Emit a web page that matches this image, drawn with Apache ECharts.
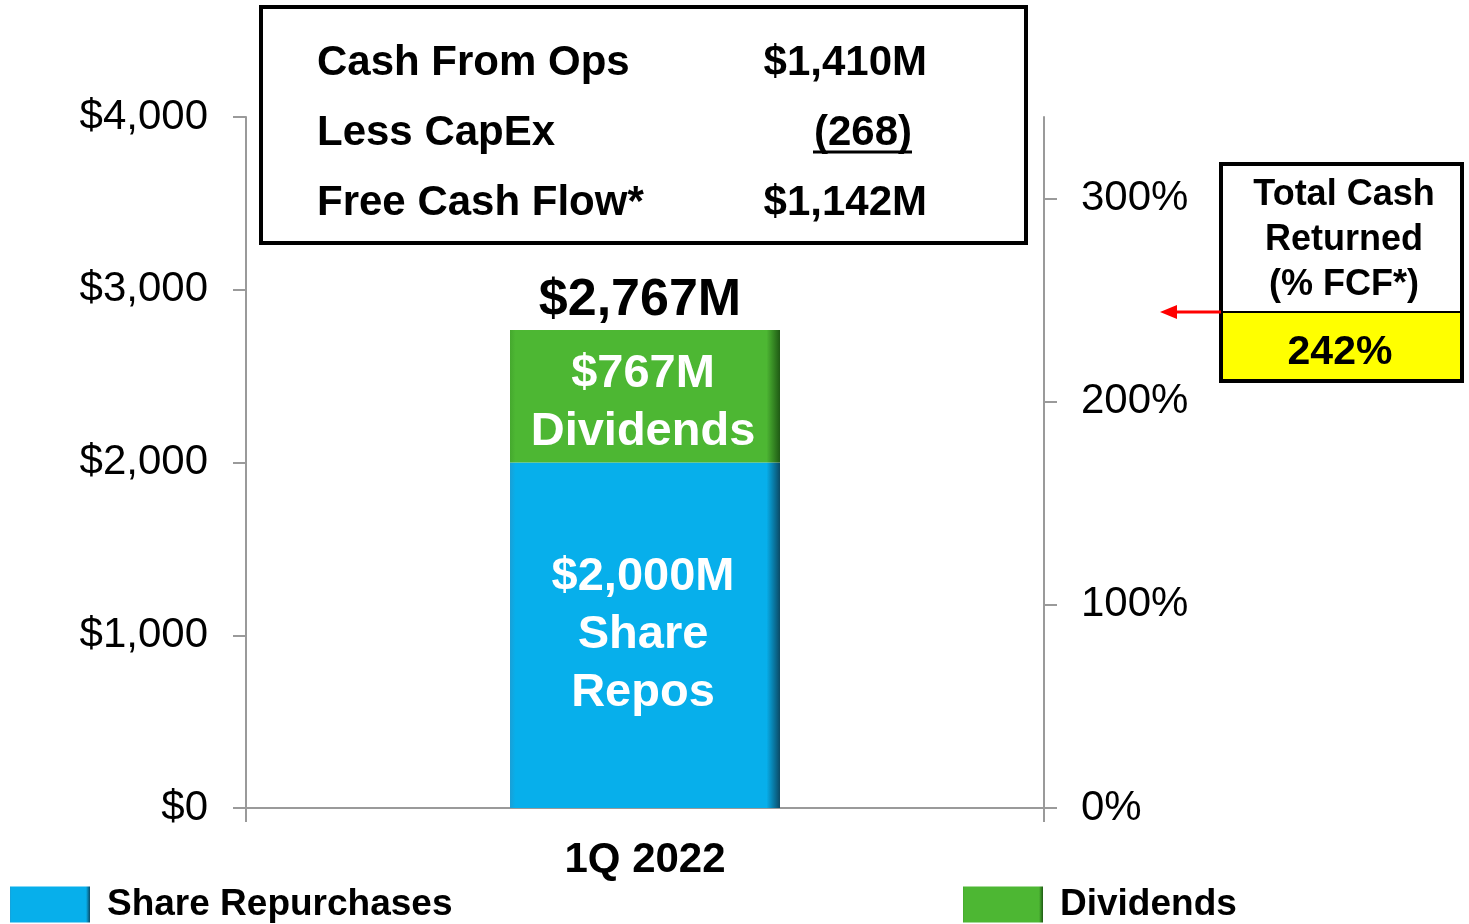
<!DOCTYPE html>
<html>
<head>
<meta charset="utf-8">
<script src="https://cdn.jsdelivr.net/npm/echarts@6/dist/echarts.min.js"></script>
<style>
  html, body { margin: 0; padding: 0; background: #fff; }
  #chart { width: 1469px; height: 924px; }
</style>
</head>
<body>
<div id="chart"></div>
<script>
const categories = ['1Q 2022']
const shareRepurchases = [2000]
const dividends = [767]
const dollarTicks = [0, 1000, 2000, 3000, 4000]
const pctTicks = [0, 100, 200, 300]
const fcfRows = ['Cash From Ops', 'Less CapEx', 'Free Cash Flow*']
const fcfValues = ['$1,410M', '(268)', '$1,142M']
const returnedLines = ['Total Cash', 'Returned', '(% FCF*)']
const returnedPct = 242

const FONT = 'Liberation Sans, Arial, sans-serif'
const fmt = v => v.toLocaleString('en-US')
const totals = shareRepurchases.map((v, i) => v + dividends[i])

// bevel-ish fill: flat middle, darker right edge
function bevel(light, base, dark) {
  return new echarts.graphic.LinearGradient(0, 0, 1, 0, [
    { offset: 0, color: light },
    { offset: 0.02, color: base },
    { offset: 0.95, color: base },
    { offset: 1, color: dark }
  ])
}

const chart = echarts.init(document.getElementById('chart'))

const axisGrey = { color: '#9a9a9a', width: 2 }
const legendText = { fontFamily: FONT, fontWeight: 'bold', fontSize: 37, color: '#000', padding: [0, 0, 0, 12] }

chart.setOption({
  animation: false,
  grid: { left: 246, right: 425, top: 117, bottom: 116 },
  legend: [{
    data: ['Share Repurchases'],
    left: 10,
    top: 886,
    padding: 0,
    icon: 'rect',
    itemWidth: 80,
    itemHeight: 36,
    textStyle: legendText
  }, {
    data: ['Dividends'],
    left: 963,
    top: 886,
    padding: 0,
    icon: 'rect',
    itemWidth: 80,
    itemHeight: 36,
    textStyle: legendText
  }],
  xAxis: {
    type: 'category',
    data: categories,
    axisLine: { lineStyle: axisGrey },
    axisTick: { show: true, length: 14, lineStyle: axisGrey },
    axisLabel: { fontFamily: FONT, fontWeight: 'bold', fontSize: 42, color: '#000', margin: 31 }
  },
  yAxis: [{
    type: 'value',
    min: dollarTicks[0],
    max: dollarTicks[dollarTicks.length - 1],
    interval: 1000,
    axisLine: { show: true, lineStyle: axisGrey },
    axisTick: { show: true, length: 13, lineStyle: axisGrey },
    splitLine: { show: false },
    axisLabel: {
      fontFamily: FONT, fontSize: 42, color: '#000', margin: 38, padding: [5, 0, 0, 0],
      formatter: v => '$' + fmt(v)
    }
  }, {
    type: 'value',
    position: 'right',
    min: 0,
    max: 340,
    axisLine: { show: true, lineStyle: axisGrey },
    axisTick: { show: true, length: 13, lineStyle: axisGrey, customValues: pctTicks },
    splitLine: { show: false },
    axisLabel: {
      fontFamily: FONT, fontSize: 42, color: '#000', margin: 37, padding: [5, 0, 0, 0],
      customValues: pctTicks,
      formatter: v => v + '%'
    }
  }],
  series: [{
    name: 'Share Repurchases',
    type: 'bar',
    stack: 'cash',
    barWidth: 270,
    data: shareRepurchases,
    itemStyle: { color: bevel('#1a9fd6', '#07afeb', '#0b4a66') },
    label: {
      show: true,
      position: 'inside',
      offset: [-2, 0],
      fontFamily: FONT, fontWeight: 'bold', fontSize: 47, lineHeight: 58, color: '#fff',
      formatter: p => '$' + fmt(p.value) + 'M\nShare\nRepos'
    }
  }, {
    name: 'Dividends',
    type: 'bar',
    stack: 'cash',
    barWidth: 270,
    data: dividends,
    itemStyle: { color: bevel('#45a82e', '#4db733', '#1f5a14') },
    label: {
      show: true,
      position: 'inside',
      offset: [-2, 7],
      fontFamily: FONT, fontWeight: 'bold', fontSize: 47, lineHeight: 58, color: '#fff',
      formatter: p => '$' + fmt(p.value) + 'M\nDividends'
    }
  }, {
    name: 'Total',
    type: 'bar',
    stack: 'cash',
    barWidth: 270,
    data: totals.map(() => 0),
    itemStyle: { color: 'transparent' },
    label: {
      show: true,
      position: 'top',
      distance: 3,
      offset: [-5, 0],
      fontFamily: FONT, fontWeight: 'bold', fontSize: 52, color: '#000',
      formatter: p => '$' + fmt(totals[p.dataIndex]) + 'M'
    }
  }],
  graphic: [
    // FCF box
    { type: 'rect', shape: { x: 261, y: 7, width: 765, height: 236 }, style: { fill: '#fff', stroke: '#000', lineWidth: 4 } },
    ...fcfRows.map((t, i) => ({
      type: 'text', x: 317, y: 63 + i * 70,
      style: { text: t, font: 'bold 42px ' + FONT, fill: '#000', textAlign: 'left', textVerticalAlign: 'middle' }
    })),
    ...fcfValues.map((t, i) => ({
      type: 'text', x: i === 1 ? 912 : 927, y: 63 + i * 70,
      style: { text: t, font: 'bold 42px ' + FONT, fill: '#000', textAlign: 'right', textVerticalAlign: 'middle' }
    })),
    { type: 'line', shape: { x1: 813, y1: 152, x2: 912, y2: 152 }, style: { stroke: '#000', lineWidth: 3 } },
    // total cash returned box
    { type: 'rect', shape: { x: 1221, y: 312, width: 241, height: 69 }, style: { fill: '#ffff00' } },
    { type: 'rect', shape: { x: 1221, y: 164, width: 241, height: 217 }, style: { fill: 'none', stroke: '#000', lineWidth: 4 } },
    { type: 'line', shape: { x1: 1221, y1: 312, x2: 1462, y2: 312 }, style: { stroke: '#000', lineWidth: 2 } },
    ...returnedLines.map((t, i) => ({
      type: 'text', x: 1344, y: 195 + i * 45,
      style: { text: t, font: 'bold 36px ' + FONT, fill: '#000', textAlign: 'center', textVerticalAlign: 'middle' }
    })),
    {
      type: 'text', x: 1340, y: 353,
      style: { text: returnedPct + '%', font: 'bold 41px ' + FONT, fill: '#000', textAlign: 'center', textVerticalAlign: 'middle' }
    },
    // red arrow
    { type: 'line', shape: { x1: 1221, y1: 312, x2: 1172, y2: 312 }, style: { stroke: '#ff0000', lineWidth: 3 } },
    { type: 'polygon', shape: { points: [[1160, 312], [1177, 305], [1177, 319]] }, style: { fill: '#ff0000' } }
  ]
})
</script>
</body>
</html>
